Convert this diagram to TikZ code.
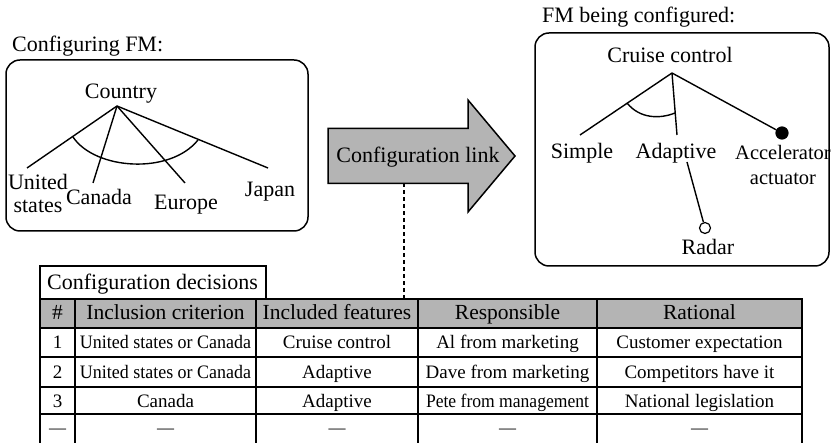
\documentclass[tikz,border=0pt]{standalone}
\usepackage{fontspec}
\usepackage{graphicx}
\setmainfont{Liberation Serif}
\definecolor{fillgray}{HTML}{B4B4B4}
\begin{document}
\begin{tikzpicture}[x=1pt,y=-1pt,
  big/.style={font=\fontsize{22}{23}\selectfont, inner sep=0pt},
  hdr/.style={font=\fontsize{21.5}{23}\selectfont, inner sep=0pt, anchor=base},
  cell/.style={font=\fontsize{19}{21}\selectfont, inner sep=0pt, anchor=base},
  dashcell/.style={font=\fontsize{17}{20}\selectfont, inner sep=0pt, anchor=center},
  tree/.style={line width=1.4pt},
  fmbox/.style={line width=1.5pt, rounded corners=14pt},
  gridline/.style={line width=2pt},
  linkarrow/.style={line width=1.5pt, fill=fillgray, line join=miter},
  mand/.style={circle, fill=black, draw=black, line width=1.2pt, minimum size=12pt, inner sep=0pt},
  opt/.style={circle, fill=white, draw=black, line width=1.2pt, minimum size=11pt, inner sep=0pt}]
\useasboundingbox (0,0) rectangle (831,443);

% ---------- left feature model ----------
\node[big, anchor=base west] (lefttitle) at (12,52) {Configuring FM:};
\draw[fmbox] (6,60) rectangle (308,231);
\node[big, anchor=base] (country) at (121,99) {Country};
\node[big, anchor=north, align=center] (us) at (38,174) {United\\states};
\node[big, anchor=base] (canada) at (99,205) {Canada};
\node[big, anchor=base] (europe) at (186,210) {Europe};
\node[big, anchor=base] (japan) at (270,197) {Japan};
\coordinate (capex) at (117,106);
\coordinate (cus) at (27,168);
\coordinate (cca) at (93,183);
\coordinate (ceu) at (185,183);
\coordinate (cja) at (268,168);
\draw[tree] (capex) -- (cus);
\draw[tree] (capex) -- (cca);
\draw[tree] (capex) -- (ceu);
\draw[tree] (capex) -- (cja);
\coordinate (arcA) at (73,137);
\coordinate (arcB) at (198,140);
\draw[tree] (arcA) .. controls (95,170) and (170,175) .. (arcB);

% ---------- configuration link arrow ----------
\draw[linkarrow] (328,128.5) -- (468,128.5) -- (468,100) -- (515,156) -- (468,212) -- (468,183.5) -- (328,183.5) -- cycle;
\node[big, anchor=base] (linktext) at (418,163) {Configuration link};
\coordinate (linkbot) at (404,183.5);
\coordinate (tabtop) at (404,299);
\draw[line width=2pt, dash pattern=on 4pt off 3pt] (linkbot) -- (tabtop);

% ---------- right feature model ----------
\node[big, anchor=base west] (righttitle) at (542,23) {FM being configured:};
\draw[fmbox] (535,33) rectangle (829,266);
\node[big, anchor=base] (cruise) at (670,63) {Cruise control};
\node[big, anchor=base] (simple) at (582,159) {Simple};
\node[big, anchor=base] (adaptive) at (676,159) {Adaptive};
\node[big, font=\fontsize{20.5}{25}\selectfont, anchor=north, align=center] (accel) at (783,145) {Accelerator\\actuator};
\node[big, anchor=base] (radar) at (708,255) {Radar};
\coordinate (rapex) at (672,73);
\coordinate (rsimple) at (580,135);
\coordinate (radapt) at (677,135);
\node[mand] (accdot) at (782,133) {};
\node[opt] (radardot) at (705,228) {};
\coordinate (adaptbot) at (687,162);
\draw[tree] (rapex) -- (rsimple);
\draw[tree] (rapex) -- (radapt);
\draw[tree] (rapex) -- (accdot);
\draw[tree] (adaptbot) -- (radardot);
\coordinate (rarcA) at (627,103);
\coordinate (rarcB) at (675,113);
\draw[tree] (rarcA) .. controls (640,119) and (660,119) .. (rarcB);

% ---------- decisions table ----------
\fill[fillgray] (40,299) rectangle (802,328);
\draw[gridline] (40,299) rectangle (266,266);
\node[big, anchor=base west] (dectitle) at (47,290) {Configuration decisions};
\foreach \y in {299,328,357,387,414}
  \draw[gridline] (39,\y) -- (803,\y);
\foreach \x in {40,75,256,418,597,802}
  \draw[gridline] (\x,299) -- (\x,443);

\node[hdr] (h0) at (57.5,320) {\#};
\node[hdr] (h1) at (165.5,320) {Inclusion criterion};
\node[hdr] (h2) at (337,320) {Included features};
\node[hdr] (h3) at (507.5,320) {Responsible};
\node[hdr] (h4) at (699.5,320) {Rational};

\node[cell] (a0) at (57.5,349) {1};
\node[cell] (a1) at (165.5,349) {\scalebox{0.945}[1]{United states or Canada}};
\node[cell] (a2) at (337,349) {Cruise control};
\node[cell] (a3) at (507.5,349) {Al from marketing};
\node[cell] (a4) at (699.5,349) {Customer expectation};

\node[cell] (b0) at (57.5,379) {2};
\node[cell] (b1) at (165.5,379) {\scalebox{0.945}[1]{United states or Canada}};
\node[cell] (b2) at (337,379) {Adaptive};
\node[cell] (b3) at (507.5,379) {Dave from marketing};
\node[cell] (b4) at (699.5,379) {Competitors have it};

\node[cell] (c0) at (57.5,408) {3};
\node[cell] (c1) at (165.5,408) {Canada};
\node[cell] (c2) at (337,408) {Adaptive};
\node[cell] (c3) at (507.5,408) {\scalebox{0.925}[1]{Pete from management}};
\node[cell] (c4) at (699.5,408) {National legislation};

\node[dashcell] (d0) at (57.5,431) {—};
\node[dashcell] (d1) at (165.5,431) {—};
\node[dashcell] (d2) at (337,431) {—};
\node[dashcell] (d3) at (507.5,431) {—};
\node[dashcell] (d4) at (699.5,431) {—};
\end{tikzpicture}
\end{document}
